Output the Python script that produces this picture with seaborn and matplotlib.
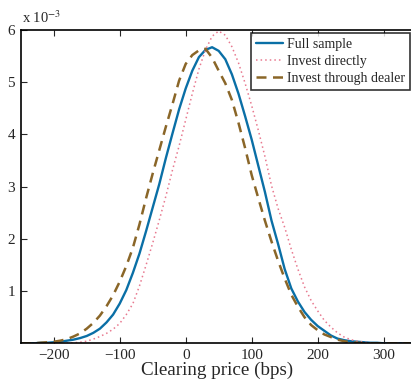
import matplotlib
matplotlib.use("Agg")
import matplotlib.pyplot as plt
import seaborn as sns
import pandas as pd

# Clearing price grid (bps)
price = list(range(-250, 350, 10))

# Densities in units of 1e-3
full_sample = [0.0, 0.0, 0.0, 0.01, 0.01, 0.02, 0.03, 0.05, 0.07, 0.10,
               0.14, 0.20, 0.28, 0.40, 0.55, 0.76, 1.02, 1.35, 1.72, 2.15,
               2.60, 3.05, 3.55, 4.02, 4.48, 4.88, 5.22, 5.48, 5.62, 5.67,
               5.60, 5.44, 5.15, 4.78, 4.35, 3.90, 3.40, 2.90, 2.35, 1.90,
               1.42, 1.05, 0.80, 0.60, 0.45, 0.33, 0.24, 0.15, 0.09, 0.06,
               0.04, 0.03, 0.02, 0.01, 0.01, 0.0, 0.0, 0.0, 0.0, 0.0]
invest_directly = [0.0, 0.0, 0.0, 0.0, 0.0, 0.0, 0.0, 0.0, 0.01, 0.02,
                   0.04, 0.08, 0.13, 0.19, 0.27, 0.38, 0.55, 0.76, 1.10, 1.50,
                   1.92, 2.36, 2.82, 3.32, 3.78, 4.28, 4.78, 5.25, 5.62, 5.88,
                   5.98, 5.90, 5.68, 5.37, 4.98, 4.55, 4.08, 3.58, 3.02, 2.58,
                   2.22, 1.80, 1.42, 1.08, 0.82, 0.62, 0.44, 0.31, 0.20, 0.12,
                   0.07, 0.04, 0.02, 0.01, 0.0, 0.0, 0.0, 0.0, 0.0, 0.0]
invest_dealer = [0.0, 0.0, 0.0, 0.01, 0.02, 0.03, 0.05, 0.08, 0.13, 0.19,
                 0.28, 0.39, 0.53, 0.71, 0.92, 1.18, 1.48, 1.83, 2.28, 2.78,
                 3.25, 3.70, 4.15, 4.58, 5.03, 5.35, 5.52, 5.61, 5.64, 5.47,
                 5.22, 4.98, 4.66, 4.22, 3.74, 3.22, 2.78, 2.35, 1.95, 1.58,
                 1.24, 0.93, 0.70, 0.50, 0.35, 0.25, 0.17, 0.12, 0.07, 0.04,
                 0.02, 0.01, 0.0, 0.0, 0.0, 0.0, 0.0, 0.0, 0.0, 0.0]

labels = ["Full sample", "Invest directly", "Invest through dealer"]
xticks = [-200, -100, 0, 100, 200, 300]
yticks = [1, 2, 3, 4, 5, 6]

sns.set_style("ticks")
plt.rcParams["font.family"] = ["Liberation Serif", "DejaVu Serif"]
plt.rcParams["mathtext.fontset"] = "stix"
plt.rcParams["axes.unicode_minus"] = True

W, H = 411, 381
fig = plt.figure(figsize=(W / 100, H / 100), dpi=100)
left_px, right_px = 20.7, 413.4
bot_px, top_px = 343.3, 30.0
ax = fig.add_axes([left_px / W, (H - bot_px) / H,
                   (right_px - left_px) / W, (bot_px - top_px) / H])

df = pd.DataFrame({"price": price, "full": full_sample,
                   "direct": invest_directly, "dealer": invest_dealer})

sns.lineplot(data=df, x="price", y="full", ax=ax, color="#0a6fa6",
             lw=1.7, label=labels[0])
sns.lineplot(data=df, x="price", y="direct", ax=ax, color="#e8798f",
             lw=1.1, linestyle=(0, (1, 2)), label=labels[1])
sns.lineplot(data=df, x="price", y="dealer", ax=ax, color="#8a6628",
             lw=1.8, linestyle=(0, (4, 2.6)), label=labels[2])

ax.set_xlim(-250, 345)
ax.set_ylim(0, 6)
ax.set_xticks(xticks)
ax.set_xticklabels(["\u2212200", "\u2212100", "0", "100", "200", "300"])
ax.set_yticks(yticks)
ax.set_yticklabels([str(t) for t in yticks])
ax.tick_params(direction="in", length=4.5, width=0.8, labelsize=11,
               top=True, right=False, pad=4)
for s in ["left", "bottom", "top"]:
    ax.spines[s].set_linewidth(1.2)
    ax.spines[s].set_color("black")
ax.spines["right"].set_visible(False)
ax.set_xlabel("Clearing price (bps)", fontsize=13.7, labelpad=0)
ax.set_ylabel("")

fig.text(22 / W, 1 - 18 / H, "x 10$^{-3}$", fontsize=10.5, ha="left", va="center")

leg = ax.legend(loc="upper right", bbox_to_anchor=(410 / W, 1 - 33 / H),
                bbox_transform=fig.transFigure, frameon=True, fancybox=False,
                fontsize=10, handlelength=1.95, handletextpad=0.3,
                borderpad=0.35, labelspacing=0.28, borderaxespad=0)
leg.get_frame().set_edgecolor("black")
leg.get_frame().set_linewidth(1.2)

fig.savefig("out.png", dpi=100)
